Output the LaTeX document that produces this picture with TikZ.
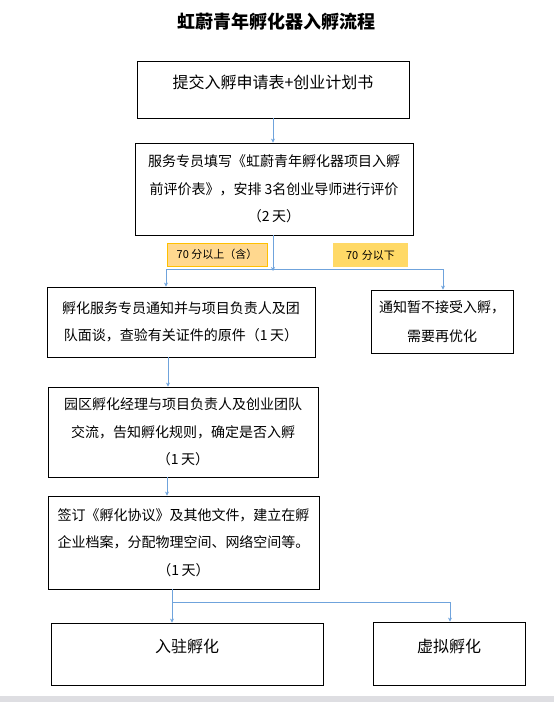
\documentclass[tikz,border=0pt]{standalone}
\usepackage{fontspec}
\setmainfont{Noto Sans CJK SC}
\usetikzlibrary{arrows.meta}
\definecolor{jalur}{HTML}{6FA3DC}
\definecolor{isiA}{HTML}{FFD88F}
\definecolor{tepiA}{HTML}{FFC000}
\definecolor{isiB}{HTML}{FFD966}
\definecolor{dasar}{HTML}{DEDEE2}
\tikzset{
  kotak/.style={draw=black, thick, align=center, inner sep=0pt,
    font=\fontsize{14}{27.5}\selectfont},
  panah/.style={draw=jalur, line width=0.9pt, -{Stealth[length=4pt,width=4pt]}},
  garis/.style={draw=jalur, line width=0.9pt},
  tanda/.style={align=center, inner sep=0pt, font=\fontsize{11}{13}\selectfont}
}
\begin{document}
\begin{tikzpicture}[x=1pt,y=-1pt]
    \useasboundingbox (0,0) rectangle (554,702);
    % Dasar
    \fill[dasar] (0,696) rectangle (554,702);
    % Judul
    \node[font=\fontsize{18}{20}\selectfont\bfseries] (judul) at (276,22) {虹蔚青年孵化器入孵流程};
    % Kotak
    \node[kotak, minimum width=272pt, minimum height=57pt, text depth=15pt,
      font=\fontsize{16}{20}\selectfont] (ajuan) at (273,89.5) {提交入孵申请表+创业计划书};
    \node[kotak, minimum width=278pt, minimum height=92pt] (nilai) at (274,189)
      {服务专员填写《虹蔚青年孵化器项目入孵\\前评价表》，安排 3名创业导师进行评价\\（2\,天）};
    \node[kotak, minimum width=268pt, minimum height=70pt] (temu) at (181,322)
      {孵化服务专员通知并与项目负责人及团\\队面谈，查验有关证件的原件（1\,天）};
    \node[kotak, minimum width=142pt, minimum height=63pt,
      font=\fontsize{14}{29}\selectfont] (tolak) at (442,321.5)
      {通知暂不接受入孵，\\需要再优化};
    \node[kotak, minimum width=270pt, minimum height=90pt, yshift=-3pt] (rapat) at (183,429)
      {园区孵化经理与项目负责人及创业团队\\交流，告知孵化规则，确定是否入孵\\（1\,天）};
    \node[kotak, minimum width=271pt, minimum height=93pt] (sepakat) at (183.5,542.5)
      {签订《孵化协议》及其他文件，建立在孵\\企业档案，分配物理空间、网络空间等。\\（1\,天）};
    \node[kotak, minimum width=272pt, minimum height=62pt, text depth=16pt,
      font=\fontsize{16}{20}\selectfont] (masuk) at (187,654) {入驻孵化};
    \node[kotak, minimum width=152pt, minimum height=63pt, text depth=16pt,
      font=\fontsize{16}{20}\selectfont] (maya) at (449,653.5) {虚拟孵化};
    % Label skor
    \node[tanda, fill=isiA, draw=tepiA, thick, minimum width=100pt, minimum height=23pt]
      (atas) at (217,254.5) {70 分以上（含）};
    \node[tanda, fill=isiB, minimum width=75pt, minimum height=24pt, text width=62pt]
      (bawah) at (370.5,255) {70 分以下};
    % Titik cabang
    \coordinate (c1) at (273,269);
    \coordinate (c1k) at (166,269);
    \coordinate (c1n) at (443,269);
    \coordinate (c2) at (172,602);
    \coordinate (c2n) at (450,602);
    % Jalur
    \draw[panah] (ajuan.south -| 273,0) -- (nilai.north -| 273,0);
    \draw[panah] (nilai.south -| c1) -- ([yshift=-2pt]c1);
    \draw[garis] (c1k) -- (c1n);
    \draw[panah] (c1k) -- (temu.north -| c1k);
    \draw[panah] (c1n) -- (tolak.north -| c1n);
    \draw[panah] (temu.south -| 168,0) -- (rapat.north -| 168,0);
    \draw[panah] (rapat.south -| 167,0) -- (sepakat.north -| 167,0);
    \draw[garis] (sepakat.south -| c2) -- (c2) -- (c2n);
    \draw[panah] (c2) -- (masuk.north -| c2);
    \draw[panah] (c2n) -- (maya.north -| c2n);
\end{tikzpicture}
\end{document}
